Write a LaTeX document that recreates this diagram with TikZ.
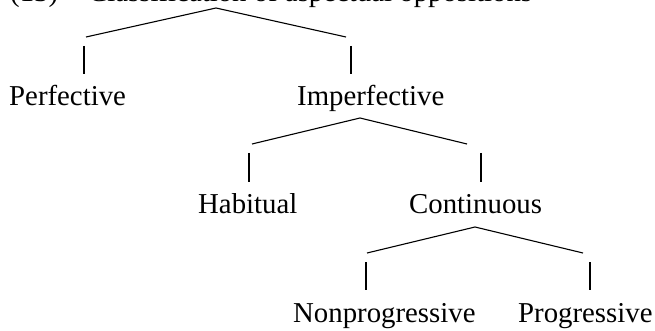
\documentclass[tikz,border=0pt]{standalone}
\usepackage{fontspec}
\setmainfont{Liberation Serif}
\begin{document}
\begin{tikzpicture}[x=1pt,y=-1pt,
  lbl/.style={anchor=base west, inner sep=0pt, font=\fontsize{28.8}{34}\selectfont},
  branch/.style={line width=1.1pt}]
\useasboundingbox (0,0) rectangle (655,331);
\clip (0,0) rectangle (655,331);
% title (cut off at the top edge, as in the reference)
\node[lbl] (num) at (10,2) {(13)};
\node[lbl] (title) at (88,2) {Classification of aspectual oppositions};
% level 1
\coordinate (a1) at (216,8);
\coordinate (l1) at (86,37);
\coordinate (r1) at (346,37);
\coordinate (l1t) at (84,46);
\coordinate (l1b) at (84,74);
\coordinate (r1t) at (351,46);
\coordinate (r1b) at (351,74);
\draw[branch] (l1) -- (a1) -- (r1);
\draw[branch] (l1t) -- (l1b);
\draw[branch] (r1t) -- (r1b);
\node[lbl] (perf) at (9,106) {Perfective};
\node[lbl] (imperf) at (297,106) {Imperfective};
% level 2
\coordinate (a2) at (360,118);
\coordinate (l2) at (252,144);
\coordinate (r2) at (467,144);
\coordinate (l2t) at (249,153);
\coordinate (l2b) at (249,182);
\coordinate (r2t) at (481,153);
\coordinate (r2b) at (481,182);
\draw[branch] (l2) -- (a2) -- (r2);
\draw[branch] (l2t) -- (l2b);
\draw[branch] (r2t) -- (r2b);
\node[lbl] (hab) at (198,213) {Habitual};
\node[lbl] (cont) at (409,213) {Continuous};
% level 3
\coordinate (a3) at (475,227);
\coordinate (l3) at (367,253);
\coordinate (r3) at (583,253);
\coordinate (l3t) at (366,262);
\coordinate (l3b) at (366,290);
\coordinate (r3t) at (590,262);
\coordinate (r3b) at (590,290);
\draw[branch] (l3) -- (a3) -- (r3);
\draw[branch] (l3t) -- (l3b);
\draw[branch] (r3t) -- (r3b);
\node[lbl] (nonprog) at (293,322) {Nonprogressive};
\node[lbl] (prog) at (518,322) {Progressive};
\end{tikzpicture}
\end{document}
